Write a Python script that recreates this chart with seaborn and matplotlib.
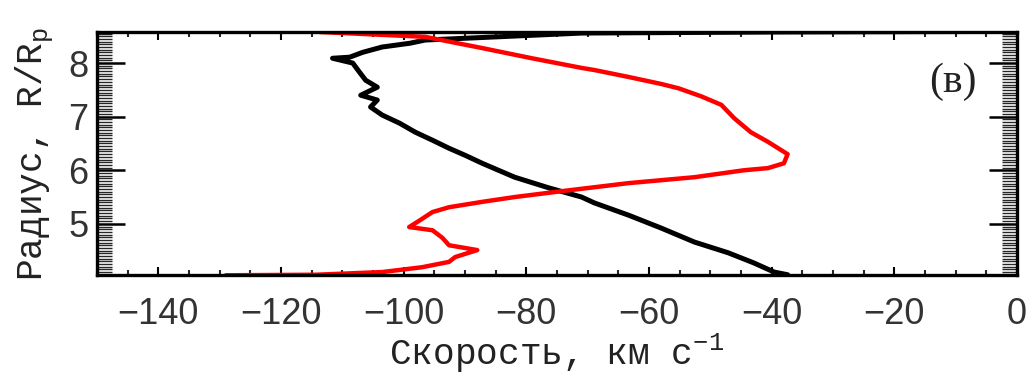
import numpy as np
import pandas as pd
import matplotlib
matplotlib.use("Agg")
import matplotlib.pyplot as plt
import seaborn as sns
from matplotlib.ticker import MultipleLocator

# Black profile: velocity (km/s) vs radius (R/Rp)
black_v = [-5, -40, -71, -96.5, -99, -103.5, -106.7, -108.8, -111.6, -108.3, -107.2,
           -106.2, -104.3, -107.0, -104.3, -105.4, -103.5, -100.7, -98.1, -95.3,
           -92.6, -90.0, -87.2, -81.9, -76.3, -71.0, -68.9, -63.3, -58.0, -52.6,
           -47.1, -42.9, -39.6, -37.4]
black_r = [8.59, 8.58, 8.56, 8.43, 8.37, 8.30, 8.20, 8.11, 8.09, 8.00, 7.83,
           7.68, 7.55, 7.40, 7.31, 7.18, 7.03, 6.88, 6.71, 6.56,
           6.41, 6.28, 6.13, 5.87, 5.67, 5.50, 5.39, 5.16, 4.92, 4.66,
           4.46, 4.27, 4.10, 4.05]

# Red profile
red_v = [-113.7, -96.5, -87.2, -79.1, -71.0, -68.9, -63.3, -58.0, -55.2, -51.5,
         -48.2, -46.1, -43.4, -40.6, -37.4, -38.0, -40.6, -44.5, -52.6, -63.3,
         -74.2, -81.9, -87.2, -92.6, -95.3, -97.3, -99.1, -95.3, -93.7, -92.6,
         -88.0, -91.6, -92.6, -97.0, -103.5, -114.3, -129.0]
red_r = [8.58, 8.49, 8.28, 8.09, 7.91, 7.87, 7.74, 7.61, 7.53, 7.38,
         7.22, 6.97, 6.71, 6.53, 6.30, 6.13, 6.04, 6.00, 5.87, 5.76,
         5.61, 5.50, 5.41, 5.31, 5.22, 5.07, 4.94, 4.88, 4.74, 4.60,
         4.51, 4.38, 4.29, 4.19, 4.10, 4.05, 4.04]

xticks = [-140, -120, -100, -80, -60, -40, -20, 0]
yticks = [5, 6, 7, 8]
panel_label = "(в)"

sns.set_theme(style="white")
plt.rcParams['font.family'] = ['Liberation Sans', 'DejaVu Sans']
plt.rcParams['axes.unicode_minus'] = True

fig = plt.figure(figsize=(10.28, 3.81), dpi=100)
ax = fig.add_axes([97/1028, 1-275/381, (1017-97)/1028, (275-32)/381])

df_b = pd.DataFrame({"v": black_v, "r": black_r})
df_r = pd.DataFrame({"v": red_v, "r": red_r})
sns.lineplot(data=df_b, x="v", y="r", sort=False, estimator=None, color="black",
             linewidth=3.6, ax=ax)
sns.lineplot(data=df_r, x="v", y="r", sort=False, estimator=None, color="#ff0000",
             linewidth=3.2, ax=ax)

ax.set_xlim(-150, 0)
ax.set_ylim(4.045, 8.58)
ax.set_xticks(xticks)
ax.set_xticklabels([("\u2212%d" % -t) if t < 0 else "0" for t in xticks])
ax.set_yticks(yticks)
ax.set_yticklabels([str(t) for t in yticks])
ax.xaxis.set_minor_locator(MultipleLocator(5))
ax.yaxis.set_minor_locator(MultipleLocator(0.05))

ax.tick_params(axis='x', which='major', direction='in', length=6, width=1.5,
               top=True, bottom=True, labelsize=26, pad=16, colors='black')
ax.tick_params(axis='x', which='minor', direction='in', length=3.5, width=1.5,
               top=True, bottom=True)
ax.tick_params(axis='y', which='major', direction='in', length=20, width=1.8,
               left=True, right=True, labelsize=26, pad=6, colors='black')
ax.tick_params(axis='y', which='minor', direction='in', length=10.5, width=1.0,
               left=True, right=True)
for lbl in ax.get_xticklabels() + ax.get_yticklabels():
    lbl.set_color('#333333')

for s in ax.spines.values():
    s.set_linewidth(2.4)
    s.set_color('black')
    s.set_visible(True)

ax.set_xlabel("Скорость, км с$^{\\mathregular{-1}}$", fontsize=26,
              family=['Liberation Mono', 'DejaVu Sans Mono'], color='#222222',
              labelpad=0)
ax.set_ylabel("Радиус, R/R$_{\\mathregular{p}}$", fontsize=26,
              family=['Liberation Mono', 'DejaVu Sans Mono'], color='#222222',
              labelpad=10)
ax.text(-10.4, 7.65, panel_label, fontsize=30, family=['Liberation Serif'],
        ha='center', va='center', color='#222222')

fig.savefig("out.png", dpi=100)
